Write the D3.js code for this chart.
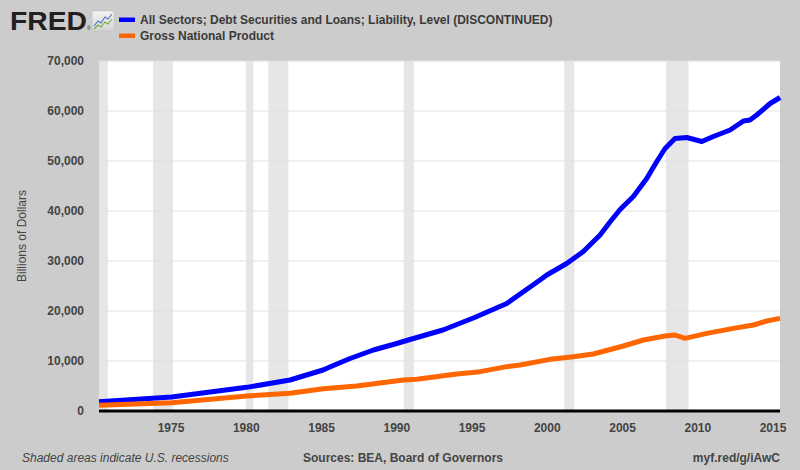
<!DOCTYPE html>
<html>
<head>
<meta charset="utf-8">
<script src="https://cdn.jsdelivr.net/npm/d3@7"></script>
<style>
  body { margin: 0; background: #cccccc; }
  text { font-family: "Liberation Sans", Arial, sans-serif; }
</style>
</head>
<body>
<div id="chart"></div>
<script>
// data (decimal years, billions of dollars)
var debtYears = [1970.25, 1975.08, 1980.06, 1982.94, 1985.13, 1985.82, 1986.93, 1988.48, 1990.03, 1990.91,
                 1993.1, 1995.2, 1997.34, 1999.55, 2000.0, 2001.32, 2002.43, 2003.54, 2004.2, 2004.87,
                 2005.75, 2006.64, 2007.31, 2007.86, 2008.52, 2009.3, 2010.3, 2011.07, 2012.18, 2013.06,
                 2013.5, 2013.95, 2014.84, 2015.5];
var debtValues = [1850, 2800, 4730, 6200, 8200, 9100, 10500, 12200, 13500, 14300,
                  16200, 18700, 21500, 26200, 27200, 29500, 31900, 35200, 37800, 40300,
                  42900, 46500, 49900, 52500, 54500, 54700, 53900, 54900, 56200, 58000,
                  58200, 59200, 61500, 62700];

var gnpYears = [1970.25, 1975.08, 1980.06, 1982.94, 1985.15, 1987.37, 1990.47, 1991.36, 1994.02, 1995.57,
                1997.34, 1998.22, 2000.22, 2001.77, 2003.09, 2005.09, 2006.42, 2007.86, 2008.52, 2009.19,
                2010.63, 2012.4, 2013.72, 2014.61, 2015.5];
var gnpValues = [1130, 1670, 3000, 3530, 4470, 5000, 6200, 6330, 7400, 7870,
                 8870, 9200, 10330, 10870, 11400, 13000, 14200, 15000, 15200, 14530,
                 15530, 16530, 17200, 18000, 18530];

// US recessions (start, end)
var recessionStarts = ['1969-12-01', '1973-11-01', '1980-01-01', '1981-07-01', '1990-07-01', '2001-03-01', '2007-12-01'];
var recessionEnds   = ['1970-11-01', '1975-03-01', '1980-07-01', '1982-11-01', '1991-03-01', '2001-11-01', '2009-06-01'];

var yTicks = [0, 10000, 20000, 30000, 40000, 50000, 60000, 70000];
var xTickYears = [1975, 1980, 1985, 1990, 1995, 2000, 2005, 2010, 2015];

var seriesNames = ['All Sectors; Debt Securities and Loans; Liability, Level (DISCONTINUED)', 'Gross National Product'];
var seriesColors = ['#0000ff', '#ff6600'];

function toDate(y) {
    var yr = Math.floor(y);
    var start = Date.UTC(yr, 0, 1), end = Date.UTC(yr + 1, 0, 1);
    return new Date(start + (y - yr) * (end - start));
}

var W = 800, H = 470;
var margin = { left: 99, right: 20, top: 61, bottom: 59 };
var width = W - margin.left - margin.right,
    height = H - margin.top - margin.bottom;

var svg = d3.select('#chart')
    .append('svg')
    .attr('width', W)
    .attr('height', H);

svg.append('rect').attr('width', W).attr('height', H).attr('fill', '#cccccc');

var g = svg.append('g')
    .attr('transform', 'translate(' + margin.left + ',' + margin.top + ')');

var x = d3.scaleUtc()
    .domain([new Date(Date.UTC(1970, 3, 1)), new Date(Date.UTC(2015, 6, 1))])
    .range([0, width]);

var y = d3.scaleLinear()
    .domain([0, 70000])
    .range([height, 0]);

// plot background
g.append('rect').attr('width', width).attr('height', height).attr('fill', '#ffffff');

// recession bands
var clip = g.append('clipPath').attr('id', 'clip').append('rect').attr('width', width).attr('height', height);
g.append('g').attr('clip-path', 'url(#clip)')
    .selectAll('rect')
    .data(recessionStarts)
    .enter()
    .append('rect')
    .attr('x', function (d) { return x(new Date(d)); })
    .attr('width', function (d, i) { return x(new Date(recessionEnds[i])) - x(new Date(d)); })
    .attr('y', 0)
    .attr('height', height)
    .attr('fill', '#e6e6e6');

// horizontal grid
g.append('g')
    .selectAll('line')
    .data(yTicks.slice(1))
    .enter()
    .append('line')
    .attr('x1', 0).attr('x2', width)
    .attr('y1', function (d) { return y(d); })
    .attr('y2', function (d) { return y(d); })
    .attr('stroke', '#e1e1e1')
    .attr('stroke-width', 1);

// y axis labels
var yAxis = g.append('g')
    .call(d3.axisLeft(y).tickValues(yTicks).tickSize(0).tickPadding(15)
        .tickFormat(function (d) { return d3.format(',')(d); }));
yAxis.select('.domain').remove();
yAxis.selectAll('text')
    .attr('font-size', '12px')
    .attr('font-weight', 'bold')
    .attr('fill', '#444444')
    .attr('font-family', '"Liberation Sans", Arial, sans-serif');

// x axis
var xAxis = g.append('g')
    .attr('transform', 'translate(0,' + height + ')')
    .call(d3.axisBottom(x)
        .tickValues(xTickYears.map(function (d) { return new Date(Date.UTC(d, 0, 1)); }))
        .tickSize(8).tickPadding(4)
        .tickFormat(d3.utcFormat('%Y')));
xAxis.select('.domain').remove();
xAxis.selectAll('line').attr('stroke', '#c4d3e6');
xAxis.selectAll('text')
    .attr('font-size', '12px')
    .attr('font-weight', 'bold')
    .attr('fill', '#444444')
    .attr('font-family', '"Liberation Sans", Arial, sans-serif');

g.append('line')
    .attr('x1', 0).attr('x2', width)
    .attr('y1', height).attr('y2', height)
    .attr('stroke', '#000000')
    .attr('stroke-width', 3);

// lines
var line = d3.line()
    .x(function (d) { return x(d[0]); })
    .y(function (d) { return y(d[1]); });

var debtData = debtYears.map(function (d, i) { return [toDate(d), debtValues[i]]; });
var gnpData = gnpYears.map(function (d, i) { return [toDate(d), gnpValues[i]]; });

[debtData, gnpData].forEach(function (data, i) {
    g.append('path')
        .datum(data)
        .attr('fill', 'none')
        .attr('stroke', seriesColors[i])
        .attr('stroke-width', 5)
        .attr('stroke-linejoin', 'round')
        .attr('d', line);
});

// y axis title
svg.append('text')
    .attr('transform', 'translate(26,' + (margin.top + height / 2) + ') rotate(-90)')
    .attr('text-anchor', 'middle')
    .attr('font-size', '12px')
    .attr('fill', '#444444')
    .text('Billions of Dollars');

// FRED logo
svg.append('text')
    .attr('x', 10).attr('y', 30)
    .attr('font-size', '26px')
    .attr('font-weight', 'bold')
    .attr('fill', '#231f20')
    .attr('textLength', 77)
    .attr('lengthAdjust', 'spacingAndGlyphs')
    .text('FRED');
svg.append('text')
    .attr('x', 87).attr('y', 30)
    .attr('font-size', '5px')
    .attr('fill', '#231f20')
    .text('®');
var icon = svg.append('g').attr('transform', 'translate(92,11)');
var grad = svg.append('defs').append('linearGradient').attr('id', 'ig').attr('x1', 0).attr('y1', 0).attr('x2', 0).attr('y2', 1);
grad.append('stop').attr('offset', '0%').attr('stop-color', '#f4f4f4');
grad.append('stop').attr('offset', '100%').attr('stop-color', '#d4d4d4');
icon.append('rect').attr('width', 22).attr('height', 20).attr('rx', 2).attr('fill', 'url(#ig)').attr('stroke', '#bdbdbd').attr('stroke-width', 0.5);
icon.append('polyline').attr('points', '2,15 6,10 9,12 13,6 16,8 20,3')
    .attr('fill', 'none').attr('stroke', '#4a78c8').attr('stroke-width', 1.2);
icon.append('polyline').attr('points', '2,18 6,14 9,16 13,11 16,13 20,8')
    .attr('fill', 'none').attr('stroke', '#7caa45').attr('stroke-width', 1.2);

// legend
var legend = svg.append('g').attr('transform', 'translate(119,0)');
seriesNames.forEach(function (name, i) {
    legend.append('rect')
        .attr('x', 0).attr('y', 17.5 + i * 16)
        .attr('width', 16).attr('height', 4.5)
        .attr('fill', seriesColors[i]);
    legend.append('text')
        .attr('x', 21).attr('y', 24 + i * 16)
        .attr('font-size', '12px')
        .attr('font-weight', 'bold')
        .attr('fill', '#3a3a3a')
        .text(name);
});

// footer
svg.append('text')
    .attr('x', 22).attr('y', 462)
    .attr('font-size', '12px')
    .attr('font-style', 'italic')
    .attr('fill', '#444444')
    .text('Shaded areas indicate U.S. recessions');
svg.append('text')
    .attr('x', 303).attr('y', 462)
    .attr('font-size', '12px')
    .attr('font-weight', 'bold')
    .attr('fill', '#444444')
    .text('Sources: BEA, Board of Governors');
svg.append('text')
    .attr('x', 780).attr('y', 462)
    .attr('text-anchor', 'end')
    .attr('font-size', '12px')
    .attr('font-weight', 'bold')
    .attr('fill', '#444444')
    .text('myf.red/g/iAwC');
</script>
</body>
</html>
